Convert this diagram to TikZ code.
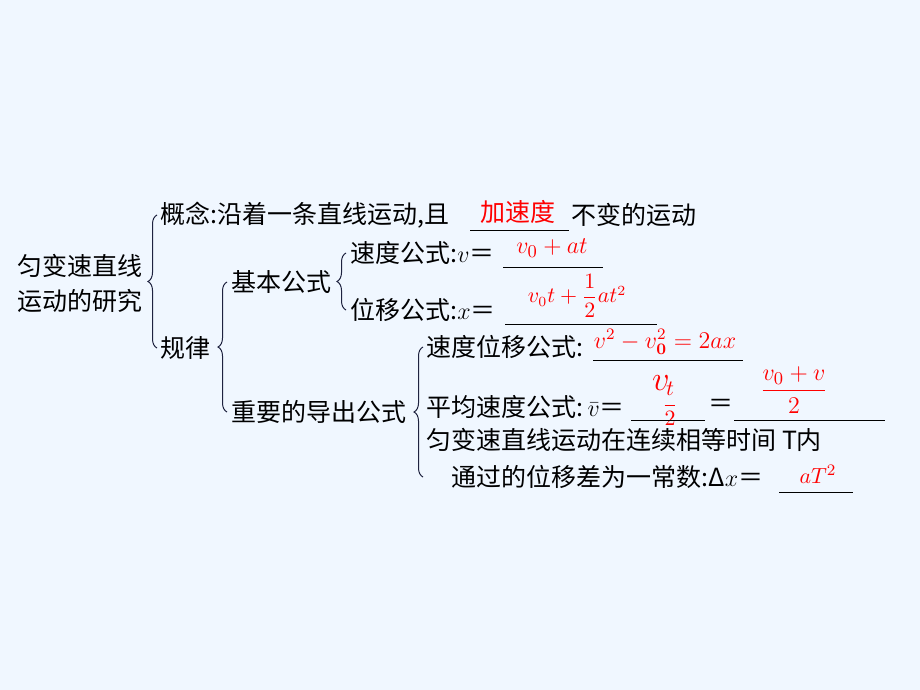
\documentclass[tikz,border=0pt]{standalone}
\usepackage{amsmath}
\usepackage[no-math]{fontspec}
\setmainfont{Noto Sans CJK SC}
\usetikzlibrary{decorations.pathreplacing}
\definecolor{bgblue}{HTML}{F0F7FF}
\definecolor{bracenavy}{HTML}{1F2340}
\tikzset{
  txt/.style={anchor=west, inner sep=0pt, font=\fontsize{12.5}{17.5}\selectfont},
  ans/.style={inner sep=0pt, text=red, font=\fontsize{12.5}{15}\selectfont},
  brace/.style={decorate, decoration={brace, amplitude=4.5pt}, draw=bracenavy, line width=0.5pt},
  uline/.style={line width=0.5pt}
}
\begin{document}
\begin{tikzpicture}[x=0.5pt, y=-0.5pt]
    \useasboundingbox[fill=bgblue] (0,0) rectangle (920,690);

    \node[txt, align=left] (topic) at (17,283) {匀变速直线\\运动的研究};

    \node[txt] (gainian) at (160,215) {概念:沿着一条直线运动,且};
    \node[ans] (jiasudu) at (518,212) {加速度};
    \node[txt] (bubian) at (571,215) {不变的运动};
    \node[txt] (guilv) at (160,348) {规律};

    \begin{scope}
      \node[txt] (jiben) at (231,282) {基本公式};
      \node[txt] (daochu) at (231,412) {重要的导出公式};

      \node[txt] (sudu) at (350,253) {速度公式:$v$＝};
      \node[ans] (sudux) at (552,248) {$v_0+at$};
      \node[txt] (weiyi) at (350,310) {位移公式:$x$＝};
      \node[ans, font=\fontsize{10.5}{12}\selectfont] (weiyix) at (577,296) {$v_0t+\dfrac{1}{2}at^2$};
    \end{scope}

    \begin{scope}
      \node[txt] (suduweiyi) at (426,347) {速度位移公式:};
      \node[ans, font=\fontsize{11.5}{14}\selectfont] (suduweiyix) at (665,342) {$v^2-v_{\mathbf{0}}^2=2ax$};
      \node[txt] (pingjun) at (426,407) {平均速度公式:\,$\bar{v}$＝};
      \node[ans, font=\fontsize{18}{20}\selectfont] (vmid) at (661,383) {$v$};
      \node[ans, font=\fontsize{11}{12}\selectfont] (vmidsub) at (670,404) {$\dfrac{t}{2}$};
      \node[txt] (deng) at (708,406) {＝};
      \node[ans] (pingjunx) at (794,390) {$\dfrac{v_0+v}{2}$};
      \node[txt] (lianxu) at (426,440) {匀变速直线运动在连续相等时间 T内};
      \node[txt] (tongguo) at (451,477) {通过的位移差为一常数:Δ$x$＝};
      \node[ans, font=\fontsize{11}{13}\selectfont] (chax) at (818,474) {$aT^2$};
    \end{scope}

    \draw[brace] ([xshift=-1.5pt]guilv.west) -- ([xshift=-1.5pt]gainian.west);
    \draw[brace] ([xshift=-2pt]daochu.west) -- ([xshift=-2pt]jiben.west);
    \draw[brace] ([xshift=-2pt]weiyi.west) -- ([xshift=-2pt]sudu.west);
    \draw[brace] ([xshift=-1.5pt]lianxu.west |- tongguo.west) -- ([xshift=-1.5pt]suduweiyi.west);

    \foreach \a/\b/\y in {470/569/230, 503/603/267, 505/657/324, 593/743/360,
                          631/705/420, 734/885/420, 779/853/492}
      \draw[uline] (\a,\y) -- (\b,\y);
\end{tikzpicture}
\end{document}
